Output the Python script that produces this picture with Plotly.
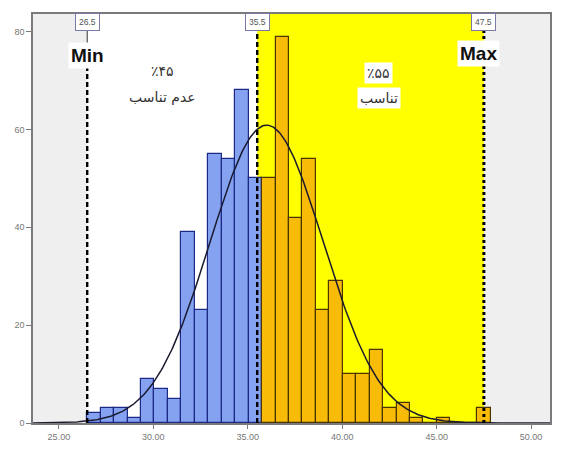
import numpy as np
import plotly.graph_objects as go

# ---- data ----
counts_below = [2, 3, 3, 1, 9, 7, 5, 39, 23, 55, 54, 68, 50]          # blue bars
counts_above = [50, 79, 42, 54, 23, 29, 10, 10, 15, 3, 4, 1, 0, 1, 0, 0, 3]  # orange bars
bin_start = 26.5
bin_width = 0.712
min_val, cut_val, max_val = 26.5, 35.5, 47.5
curve_mean, curve_sd = 36.0, 3.0
x_ticks = [25, 30, 35, 40, 45, 50]
y_ticks = [0, 20, 40, 60, 80]
label_below_pct = "٪۴۵"
label_below_txt = "عدم تناسب"
label_above_pct = "٪۵۵"
label_above_txt = "تناسب"

X_RANGE = [23.63, 51.0]
Y_RANGE = [0, 83.6]

counts = counts_below + counts_above
n_bins = len(counts)
centers = [bin_start + bin_width * (i + 0.5) for i in range(n_bins)]
fill = ["#84a2f0"] * len(counts_below) + ["#f8bb08"] * len(counts_above)
edge = ["#1c2a86"] * len(counts_below) + ["#4a3600"] * len(counts_above)

fig = go.Figure()
fig.add_trace(go.Bar(
    x=centers, y=counts, width=bin_width,
    marker=dict(color=fill, line=dict(color=edge, width=1.2)),
    showlegend=False, hoverinfo="x+y"))

# fitted normal curve
total = sum(counts)
xs = np.linspace(X_RANGE[0], X_RANGE[1], 400)
ys = total * bin_width / (curve_sd * np.sqrt(2 * np.pi)) * np.exp(-(xs - curve_mean) ** 2 / (2 * curve_sd ** 2))
fig.add_trace(go.Scatter(x=xs, y=ys, mode="lines",
                         line=dict(color="#1a1a30", width=1.5),
                         showlegend=False, hoverinfo="skip"))

shapes = []
# background zones
shapes.append(dict(type="rect", xref="x", yref="paper", x0=min_val, x1=cut_val, y0=0, y1=1,
                   fillcolor="#ffffff", line=dict(width=0), layer="below"))
shapes.append(dict(type="rect", xref="x", yref="paper", x0=cut_val, x1=max_val, y0=0, y1=1,
                   fillcolor="#ffff00", line=dict(width=0), layer="below"))
# reference lines
shapes.append(dict(type="line", xref="x", yref="y", x0=min_val, x1=min_val, y0=0, y1=72.8,
                   line=dict(color="#000000", width=2.4, dash="5px,3px"), layer="above"))
shapes.append(dict(type="line", xref="x", yref="y", x0=min_val, x1=min_val, y0=77.5, y1=80.3,
                   line=dict(color="#333333", width=1), layer="above"))
shapes.append(dict(type="line", xref="x", yref="y", x0=cut_val, x1=cut_val, y0=0, y1=80.3,
                   line=dict(color="#000000", width=2.4, dash="5px,3px"), layer="above"))
shapes.append(dict(type="line", xref="x", yref="y", x0=max_val, x1=max_val, y0=0, y1=80.3,
                   line=dict(color="#000000", width=3, dash="3px,3px"), layer="above"))

annotations = []
for v in (min_val, cut_val, max_val):
    annotations.append(dict(x=v, y=81.9, xref="x", yref="y", text=f"{v:.1f}", showarrow=False,
                            font=dict(size=8.5, color="#555555", family="Liberation Sans"),
                            bgcolor="#ffffff", bordercolor="#7a7aa8", borderwidth=1, borderpad=3))
annotations.append(dict(x=min_val, y=75.2, xref="x", yref="y", text="<b>Min</b>", showarrow=False,
                        font=dict(size=19, color="#111111", family="Liberation Sans"),
                        bgcolor="#ffffff", borderpad=2))
annotations.append(dict(x=47.2, y=75.6, xref="x", yref="y", text="<b>Max</b>", showarrow=False,
                        font=dict(size=19, color="#111111", family="Liberation Sans"),
                        bgcolor="#ffffff", borderpad=2))
for x, y, t in [(30.49, 72.0, label_below_pct), (30.49, 66.7, label_below_txt),
                (41.93, 71.6, label_above_pct), (41.93, 66.5, label_above_txt)]:
    annotations.append(dict(x=x, y=y, xref="x", yref="y", text=t, showarrow=False,
                            font=dict(size=14, color="#333333", family="DejaVu Sans"),
                            bgcolor="#ffffff", borderpad=2))

fig.update_layout(
    width=561, height=451,
    margin=dict(l=33, r=9, t=14, b=26),
    paper_bgcolor="#ffffff", plot_bgcolor="#efefef",
    bargap=0, shapes=shapes, annotations=annotations,
    xaxis=dict(range=X_RANGE, tickvals=x_ticks, ticktext=[f"{t:.2f}" for t in x_ticks],
               showgrid=False, zeroline=False, showline=True, linecolor="#7a7a7a", linewidth=1.5,
               mirror=True, ticks="outside", ticklen=4, tickcolor="#7a7a7a",
               tickfont=dict(size=9, color="#777777", family="Liberation Sans")),
    yaxis=dict(range=Y_RANGE, tickvals=y_ticks, showgrid=False, zeroline=False,
               showline=True, linecolor="#7a7a7a", linewidth=1.5, mirror=True,
               ticks="outside", ticklen=5, tickcolor="#7a7a7a",
               tickfont=dict(size=9, color="#777777", family="Liberation Sans")),
)

fig.write_html("out.html")
